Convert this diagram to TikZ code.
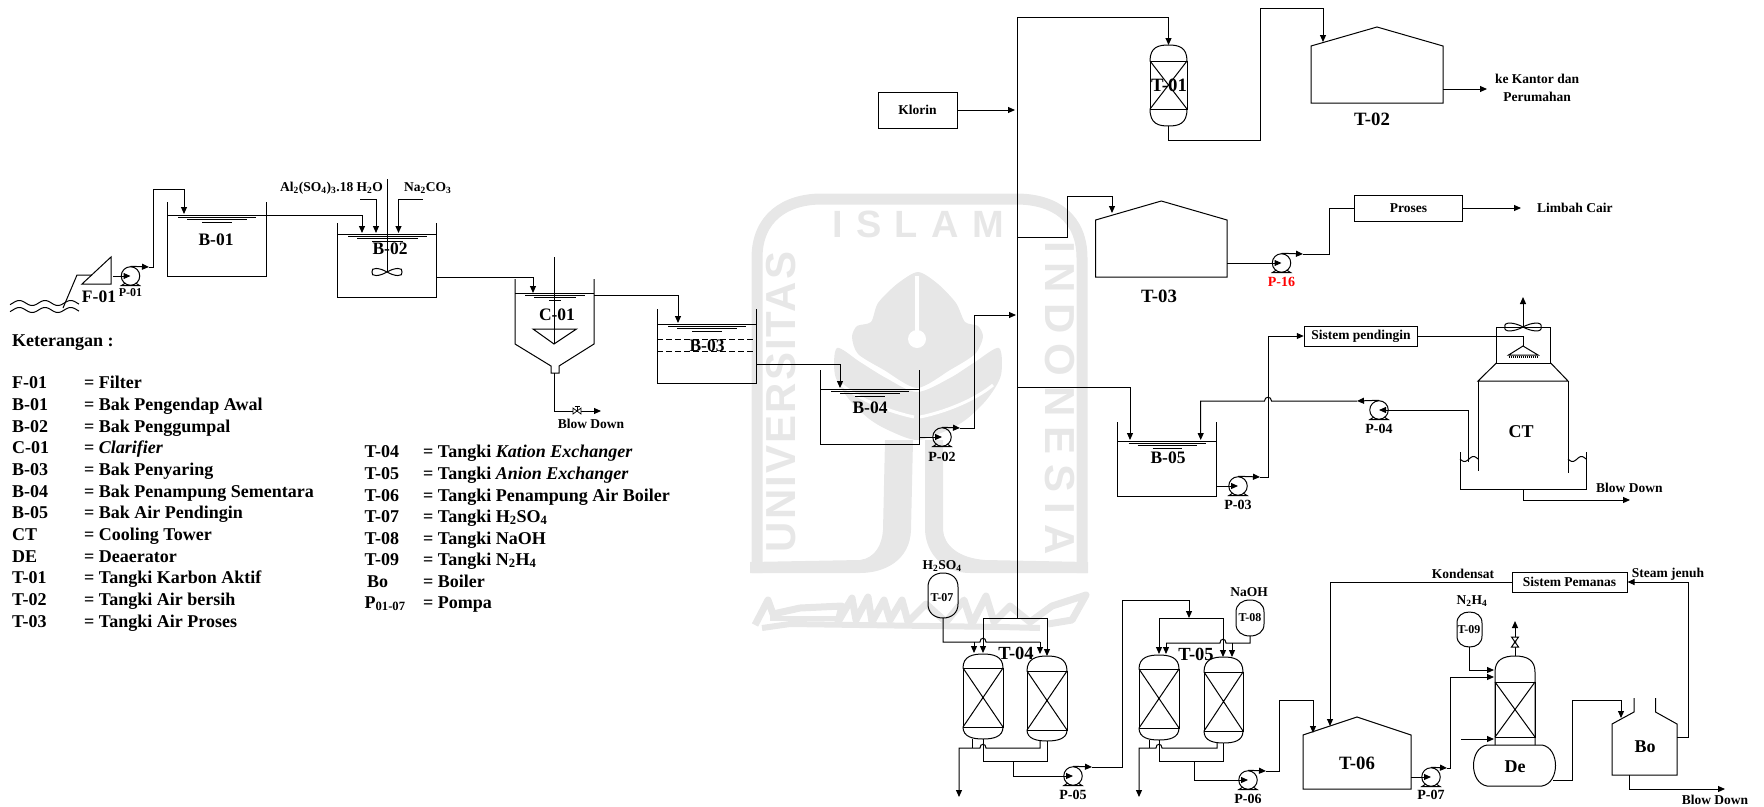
\documentclass[tikz,border=0pt]{standalone}
\usepackage{fontspec}
\setmainfont{Liberation Serif}
\setsansfont{Liberation Sans}
\usetikzlibrary{arrows.meta,calc}
\definecolor{wm}{gray}{0.905}
\tikzset{
 pipe/.style={draw=black,line width=1pt},
 arr/.style={pipe,-{Triangle[length=7pt,width=6pt]}},
 lab/.style={font=\bfseries\fontsize{17.5}{20}\selectfont,inner sep=0pt,text=black},
 tlab/.style={font=\bfseries\fontsize{18.8}{20}\selectfont,inner sep=0pt,text=black},
 plab/.style={font=\bfseries\fontsize{14}{16}\selectfont,inner sep=0pt,text=black},
 mid/.style={font=\bfseries\fontsize{13.5}{16}\selectfont,inner sep=0pt,text=black},
 small/.style={font=\bfseries\fontsize{12}{14}\selectfont,inner sep=0pt,text=black},
 legend/.style={font=\bfseries\fontsize{18}{21}\selectfont,inner sep=0pt,anchor=base west,text=black},
 boxed/.style={pipe,rectangle,inner sep=0pt,font=\bfseries\fontsize{13.5}{16}\selectfont},
 pumpnode/.style={pipe,circle,inner sep=0pt,minimum size=18.5pt},
 wmtext/.style={text=wm,inner sep=0pt,font=\sffamily}
}
\newcommand\myPump[3]{%
 \node[pumpnode] (#1) at (#2,#3) {};
 \draw[pipe] ({#2-5},{#3+7}) -- ({#2-9},{#3+9.5}) -- ({#2+9},{#3+9.5}) -- ({#2+5},{#3+7});
}
\newcommand\myRipple[3]{%
 \draw[pipe] ({#1+11},{#3+2}) -- ({#2-10},{#3+2});
 \draw[pipe] ({#1+20},{#3+4.5}) -- ({#2-19},{#3+4.5});
 \draw[pipe] ({#1+35},{#3+7}) -- ({#2-34},{#3+7});
}
% x1, wall top, x2, level, bottom
\newcommand\myTank[5]{%
 \draw[pipe] (#1,#2) -- (#1,#5) -- (#3,#5) -- (#3,#2);
 \draw[pipe] (#1,#4) -- (#3,#4);
 \myRipple{#1}{#3}{#4}
}
% x1, x2, top, line1, line2, bottom
\newcommand\myVessel[6]{%
 \pgfmathsetmacro\xc{(#1+#2)/2}
 \draw[pipe] (#1,#4) rectangle (#2,#5);
 \draw[pipe] (#1,#4) -- (#2,#5) (#1,#5) -- (#2,#4);
 \draw[pipe] (#1,#4) .. controls (#1,{#3+2}) and ({\xc-10},#3) .. (\xc,#3) .. controls ({\xc+10},#3) and (#2,{#3+2}) .. (#2,#4);
 \draw[pipe] (#1,#5) .. controls (#1,{#6-2}) and ({\xc-10},#6) .. (\xc,#6) .. controls ({\xc+10},#6) and (#2,{#6-2}) .. (#2,#5);
}
% x1, x2, top, bottom, dome height
\newcommand\myDrum[5]{%
 \pgfmathsetmacro\xc{(#1+#2)/2}
 \pgfmathsetmacro\qw{(#2-#1)*.28}
 \draw[pipe] (#1,{#3+#5}) .. controls (#1,{#3+#5*.35}) and ({\xc-\qw},#3) .. (\xc,#3) .. controls ({\xc+\qw},#3) and (#2,{#3+#5*.35}) .. (#2,{#3+#5}) -- (#2,{#4-#5}) .. controls (#2,{#4-#5*.35}) and ({\xc+\qw},#4) .. (\xc,#4) .. controls ({\xc-\qw},#4) and (#1,{#4-#5*.35}) .. (#1,{#4-#5}) -- cycle;
}
% x1, x2, shoulder, apex y, bottom
\newcommand\myRoof[5]{%
 \pgfmathsetmacro\xc{(#1+#2)/2}
 \draw[pipe] (#1,#5) -- (#1,#3) -- (\xc,#4) -- (#2,#3) -- (#2,#5) -- cycle;
}
% x, y, half width, half height
\newcommand\myBow[4]{%
 \draw[pipe] (#1,#2) .. controls ({#1-#3*.5},{#2-#4}) and ({#1-#3*1.1},{#2-#4*1.1}) .. ({#1-#3},#2) .. controls ({#1-#3*1.1},{#2+#4*1.1}) and ({#1-#3*.5},{#2+#4}) .. (#1,#2) .. controls ({#1+#3*.5},{#2-#4}) and ({#1+#3*1.1},{#2-#4*1.1}) .. ({#1+#3},#2) .. controls ({#1+#3*1.1},{#2+#4*1.1}) and ({#1+#3*.5},{#2+#4}) .. (#1,#2);
}
\begin{document}
\begin{tikzpicture}[x=1pt,y=-1pt]
\path[use as bounding box] (0,0) rectangle (1764,806);
% ---------- watermark
\begin{scope}
\draw[wm,line width=11pt] (757,573) -- (757,258) .. controls (757,218) and (785,199) .. (822,199) -- (1016,199) .. controls (1055,199) and (1082,218) .. (1082,258) -- (1082,573);
% stems and bottom band
\fill[wm] (885,440) -- (883,530) .. controls (882,545) and (875,558) .. (860,560) -- (750,562) -- (750,573) -- (860,573) .. controls (885,573) and (910,560) .. (911,530) -- (913,440) -- cycle;
\fill[wm] (925,440) -- (925,530) .. controls (926,555) and (945,573) .. (970,573) -- (1088,573) -- (1088,562) -- (985,560) .. controls (958,558) and (944,545) .. (943,530) -- (943,440) -- cycle;
% lower leaves
\fill[wm] plot[smooth cycle,tension=.5] coordinates {(837,348) (835,375) (848,398) (868,418) (888,430) (917,440) (948,430) (968,418) (988,398) (1001,375) (999,348) (975,362) (950,378) (917,392) (886,378) (860,362)};
% upper leaf
\fill[wm] plot[smooth cycle,tension=.45] coordinates {(918,272) (897,284) (878,303) (871,322) (857,326) (852,337) (858,354) (884,370) (917,388) (950,370) (975,354) (983,337) (978,326) (965,322) (956,303) (938,284)};
\draw[white,line width=4pt] (917,276) -- (917,335);
\fill[white] (917,339) circle[radius=9pt];
\draw[white,line width=3pt] (920,417) .. controls (945,412) and (975,400) .. (993,385);
\draw[white,line width=3pt] (914,417) .. controls (890,412) and (860,400) .. (842,385);
\node[wmtext,font=\sffamily\bfseries\fontsize{38}{40}\selectfont\addfontfeature{LetterSpace=35}] (wmIslam) at (918,224) {ISLAM};
\node[wmtext,rotate=90,font=\sffamily\bfseries\fontsize{42}{44}\selectfont\addfontfeature{LetterSpace=5}] (wmUniv) at (781,402) {UNIVERSITAS};
\node[wmtext,rotate=-90,font=\sffamily\bfseries\fontsize{42}{44}\selectfont\addfontfeature{LetterSpace=24}] (wmIndo) at (1060,398) {INDONESIA};
% calligraphy band
\draw[wm,line width=7pt,line join=round] (755,625) -- (768,600) -- (773,614) -- (800,608) -- (842,606) -- (838,622) -- (852,598) -- (856,620) -- (868,597) -- (872,622) -- (884,600) -- (890,620) -- (902,600) -- (908,622) -- (926,604) -- (946,622) -- (964,600) -- (972,624) -- (986,596) -- (994,622) -- (1010,606) -- (1030,622) -- (1052,606) -- (1086,595) -- (1072,620) -- (1048,624);
\draw[wm,line width=6pt] (762,628) -- (790,624) -- (1000,627) -- (1040,628);
\draw[wm,line width=5pt] (770,618) -- (840,618);
\end{scope}
% ---------- left train
\foreach \wy/\wn in {303/a,310/b}{\draw[pipe] plot[domain=10:79,samples=70] (\x,{\wy+2.5*sin(\x*14)});}
\coordinate (wIn) at (63,308);
\coordinate (fIn) at (92,275);
\draw[pipe] (wIn) -- (77,275) -- (fIn);
\draw[pipe] (82,284) -- (111,257) -- (111,284) -- cycle;
\node[lab] (lF01) at (99,297) {F-01};
\coordinate (fOut) at (113,276);
\myPump{p01}{130.5}{276}
\node[small] (lP01) at (130.5,293) {P-01};
\draw[arr] (fOut) -- (p01.center);
\coordinate (p01a) at (149,267);
\coordinate (b01in) at (184,214);
\draw[arr] (p01.north) -- (p01a);
\draw[arr] (p01a) -- (153,267) -- (153,189) -- (184,189) -- (b01in);
\myTank{167}{202}{266}{215}{276}
\node[lab] (lB01) at (216,240) {B-01};
\coordinate (b01out) at (266,215);
\coordinate (b02in) at (362,233);
\draw[arr] (b01out) -| (b02in);
\myTank{337}{223}{436.5}{234}{297}
\draw[pipe] (387,179) -- (387,272);
\myBow{387}{272}{15}{4.5}
\node[lab] (lB02) at (390,249) {B-02};
\node[mid,anchor=west] (lAl) at (280,188) {Al\textsubscript{2}(SO\textsubscript{4})\textsubscript{3}.18 H\textsubscript{2}O};
\node[mid,anchor=west] (lNa) at (404,188) {Na\textsubscript{2}CO\textsubscript{3}};
\coordinate (alF) at (360,199);
\coordinate (alT) at (376,233);
\coordinate (naF) at (423,199);
\coordinate (naT) at (398.5,233);
\draw[arr] (alF) -| (alT);
\draw[arr] (naF) -| (naT);
\coordinate (b02out) at (436.5,277);
\coordinate (c01in) at (533,293);
\draw[arr] (b02out) -| (c01in);
% clarifier
\draw[pipe] (515,279) -- (515,344) -- (551,366) -- (551,373) -- (559,373) -- (559,366) -- (594,344) -- (594,279);
\draw[pipe] (515,293) -- (594,293);
\myRipple{514}{595}{293}
\draw[pipe] (554,257) -- (554,344);
\draw[pipe] (533,329) -- (576.5,329) -- (554,344) -- cycle;
\node[lab] (lC01) at (557,315) {C-01};
\coordinate (c01bot) at (554,373);
\coordinate (blow1) at (601,411);
\draw[arr] (c01bot) |- (blow1);
\draw[pipe,fill=white,line width=.7pt] (573,408) -- (573,414) -- (581,408) -- (581,414) -- cycle;
\draw[pipe,line width=.7pt] (577,411) -- (577,406) (574.5,406) -- (579.5,406);
\node[mid] (lBlow1) at (591,424) {Blow Down};
\coordinate (c01out) at (594,295);
\coordinate (b03in) at (678,323);
\draw[arr] (c01out) -| (b03in);
\myTank{657}{309}{756}{324}{383}
\draw[pipe,dash pattern=on 6pt off 3pt] (657,339) -- (756,339) (657,351) -- (756,351);
\node[lab] (lB03) at (707,346) {B-03};
\coordinate (b03out) at (756,364);
\coordinate (b04in) at (840,388);
\draw[arr] (b03out) -| (b04in);
\myTank{820}{370}{919}{389}{444}
\node[lab] (lB04) at (870,408) {B-04};
\myPump{p02}{942}{437}
\node[plab] (lP02) at (942,457) {P-02};
\coordinate (b04out) at (919,437);
\draw[arr] (b04out) -- (p02.center);
\coordinate (p02a) at (960,428);
\draw[arr] (p02.north) -- (p02a);
\coordinate (hdr2) at (1016,315);
\draw[arr] (p02a) -- (974,428) -- (974,315) -- (hdr2);
% ---------- legend
\node[legend] (lKet) at (12,346) {Keterangan :};
\foreach \yy/\kk/\vv [count=\i] in {
 388/F-01/= Filter,
 410/B-01/= Bak Pengendap Awal,
 432/B-02/= Bak Penggumpal,
 453.5/C-01/{= \textit{Clarifier}},
 475/B-03/= Bak Penyaring,
 497/B-04/= Bak Penampung Sementara,
 518.5/B-05/= Bak Air Pendingin,
 540/CT/= Cooling Tower,
 562/DE/= Deaerator,
 583/T-01/= Tangki Karbon Aktif,
 605/T-02/= Tangki Air bersih,
 627/T-03/= Tangki Air Proses}{
 \node[legend] (ka\i) at (12,\yy) {\kk};
 \node[legend] (va\i) at (84,\yy) {\vv};
}
\foreach \yy/\xx/\kk/\vv [count=\i] in {
 457/364.5/T-04/{= Tangki \textit{Kation Exchanger}},
 479/364.5/T-05/{= Tangki \textit{Anion Exchanger}},
 501/364.5/T-06/= Tangki Penampung Air Boiler,
 522/364.5/T-07/{= Tangki H\textsubscript{2}SO\textsubscript{4}},
 544/364.5/T-08/= Tangki NaOH,
 565/364.5/T-09/{= Tangki N\textsubscript{2}H\textsubscript{4}},
 587/367/Bo/= Boiler,
 608/364.5/{P\textsubscript{01-07}}/= Pompa}{
 \node[legend] (kb\i) at (\xx,\yy) {\kk};
 \node[legend] (vb\i) at (423,\yy) {\vv};
}
% ---------- header and T-01 / T-02
\coordinate (hTop) at (1017,17);
\coordinate (hBot) at (1017,618);
\coordinate (t01in) at (1168.5,45);
\draw[pipe] (hBot) -- (hTop);
\draw[arr] (hTop) -| (t01in);
\myVessel{1150}{1187}{45}{61}{109}{126}
\node[tlab] (lT01) at (1169,85) {T-01};
\coordinate (t01out) at (1168.5,126);
\coordinate (t02in) at (1323,42);
\draw[arr] (t01out) -- (1168.5,140) -- (1260,140) -- (1260,8) -- (1323,8) -- (t02in);
\myRoof{1311}{1443}{46}{27}{103}
\node[tlab] (lT02) at (1372,119) {T-02};
\coordinate (t02out) at (1443,89);
\coordinate (t02to) at (1487,89);
\draw[arr] (t02out) -- (t02to);
\node[mid,align=center] (lKantor) at (1537,88) {ke Kantor dan\\[1.5pt]Perumahan};
\node[boxed,minimum width=79pt,minimum height=36pt] (klorin) at (917.5,110) {Klorin};
\coordinate (hKl) at (1015,110);
\draw[arr] (klorin) -- (hKl);
% ---------- T-03
\coordinate (h3) at (1017,237);
\coordinate (t03in) at (1112,213);
\draw[arr] (h3) -- (1067.5,237) -- (1067.5,196) -- (1112,196) -- (t03in);
\myRoof{1095.6}{1227}{220}{201}{277}
\node[tlab] (lT03) at (1159,296) {T-03};
\myPump{p16}{1281.5}{263}
\node[plab,text=red] (lP16) at (1281.5,282) {P-16};
\coordinate (t03out) at (1227,263);
\draw[arr] (t03out) -- (p16.center);
\coordinate (p16a) at (1303,254);
\draw[arr] (p16.north) -- (p16a);
\node[boxed,minimum width=108pt,minimum height=26pt] (proses) at (1408.5,208) {Proses};
\draw[pipe] (p16a) -- (1329,254) |- (proses.west);
\coordinate (limb) at (1521,208);
\draw[arr] (proses) -- (limb);
\node[mid,anchor=west] (lLimbah) at (1537,208) {Limbah Cair};
% ---------- B-05 and CT
\coordinate (h5) at (1017,387);
\coordinate (b05in) at (1130,440);
\draw[arr] (h5) -| (b05in);
\myTank{1117.5}{422}{1216}{441}{496}
\node[lab] (lB05) at (1168,458) {B-05};
\myPump{p03}{1238}{486}
\node[plab] (lP03) at (1238,505) {P-03};
\coordinate (b05out) at (1216,486);
\draw[arr] (b05out) -- (p03.center);
\coordinate (p03a) at (1260,477);
\draw[arr] (p03.north) -- (p03a);
\node[boxed,minimum width=113.5pt,minimum height=20pt] (sp) at (1361,336) {Sistem pendingin};
\draw[arr] (p03a) -- (1268,477) |- (sp.west);
\coordinate (spray) at (1523,346);
\draw[pipe] (sp.east) -| (spray);
\draw[pipe] (spray) -- (1508.6,355) -- (1538,355) -- cycle;
\draw[pipe,dash pattern=on 1pt off 1pt,line width=2pt] (1508.6,356.5) -- (1538,356.5);
\draw[pipe] (1496.4,327) rectangle (1550.7,363);
\draw[pipe] (1496.4,363) -- (1478,381) -- (1568,381) -- (1550.7,363);
\draw[pipe] (1478,381) -- (1478,471) (1568,381) -- (1568,473);
\draw[pipe] (1460,452) -- (1460,489) -- (1586,489) -- (1586,452);
\draw[pipe] plot[domain=1460:1478,samples=20] (\x,{459+2.5*sin((\x-1460)*20)});
\draw[pipe] plot[domain=1568:1586,samples=20] (\x,{459+2.5*sin((\x-1568)*20)});
\myBow{1523}{327}{18}{5}
\coordinate (fanHub) at (1523,327);
\coordinate (fanTop) at (1523,297);
\draw[arr] (fanHub) -- (fanTop);
\node[lab,font=\bfseries\fontsize{18}{20}\selectfont] (lCT) at (1521,432) {CT};
\myPump{p04}{1379}{410}
\node[plab] (lP04) at (1379,429) {P-04};
\coordinate (ctOut) at (1468.5,462);
\draw[arr] (ctOut) |- (p04.center);
\coordinate (p04a) at (1357,401);
\draw[arr] (p04.north) -- (p04a);
\coordinate (b05in2) at (1200.7,440);
\draw[arr] (p04a) -- (1271.5,401) .. controls (1271.5,396) and (1264.5,396) .. (1264.5,401) -- (1200.7,401) -- (b05in2);
\coordinate (ctBl) at (1523,489);
\coordinate (ctBlTo) at (1630,500);
\draw[arr] (ctBl) |- (ctBlTo);
\node[mid,anchor=west] (lBlow2) at (1596,488) {Blow Down};
% ---------- T-04
\node[mid] (lH2) at (942,566) {H\textsubscript{2}SO\textsubscript{4}};
\myDrum{928}{958}{573}{618}{14}
\node[small] (lT07) at (942,598) {T-07};
\coordinate (t07out) at (943,618);
\coordinate (t4a) at (974,653);
\coordinate (t4b) at (1040,654);
\draw[pipe] (t07out) -- (943,642) -- (980,642) .. controls (980,637) and (986,637) .. (986,642) -- (1040,642);
\draw[arr] (974,642) -- (t4a);
\draw[arr] (1040,642) -- (t4b);
\coordinate (t4c) at (983,653);
\coordinate (t4d) at (1047,656);
\draw[arr] (hBot) -- (983,618) -- (t4c);
\draw[arr] (hBot) -- (1047,618) -- (t4d);
\myVessel{963}{1003}{654}{668}{727}{739}
\myVessel{1027}{1067}{656}{671}{730}{741}
\node[lab,font=\bfseries\fontsize{18.5}{20}\selectfont] (lT04) at (1016,653) {T-04};
\coordinate (v1o1) at (972,739);
\coordinate (v1o2) at (983,739);
\coordinate (v2o1) at (1040,741);
\coordinate (v2o2) at (1047,741);
\coordinate (v1dr) at (959,797);
\draw[pipe] (v1o1) -- (972,748);
\draw[arr] (v2o1) -- (1040,748) -- (986,748) .. controls (986,743) and (980,743) .. (980,748) -- (959,748) -- (v1dr);
\draw[pipe] (v1o2) -- (983,761) -- (1047,761) -- (v2o2);
\myPump{p05}{1073}{776}
\node[plab] (lP05) at (1073,795) {P-05};
\draw[arr] (1013,761) -- (1013,776) -- (p05.center);
\coordinate (p05a) at (1092,767);
\draw[arr] (p05.north) -- (p05a);
\coordinate (t5top) at (1189,618);
\draw[arr] (p05a) -- (1122,767) -- (1122,600) -- (1189,600) -- (t5top);
% ---------- T-05
\coordinate (t5a) at (1159,654);
\coordinate (t5b) at (1223,657);
\draw[arr] (1189,618) -- (1159,618) -- (t5a);
\draw[arr] (1189,618) -- (1223,618) -- (t5b);
\node[mid] (lNaOH) at (1249,592) {NaOH};
\myDrum{1236}{1264}{600}{636}{12}
\node[small] (lT08) at (1250,618) {T-08};
\coordinate (t08out) at (1250,636);
\draw[pipe] (t08out) -- (1250,643) -- (1226,643) .. controls (1226,638) and (1220,638) .. (1220,643) -- (1166,643);
\coordinate (t5c) at (1166,654);
\coordinate (t5d) at (1232,657);
\draw[arr] (1166,643) -- (t5c);
\draw[arr] (1232,643) -- (t5d);
\myVessel{1139}{1179}{655}{669}{728}{740}
\myVessel{1204}{1243}{657}{672}{731}{743}
\node[lab,font=\bfseries\fontsize{18.5}{20}\selectfont] (lT05) at (1196,654) {T-05};
\coordinate (v3o1) at (1149,740);
\coordinate (v3o2) at (1159,740);
\coordinate (v4o1) at (1217,743);
\coordinate (v4o2) at (1223,743);
\coordinate (v3dr) at (1139,797);
\draw[pipe] (v3o1) -- (1149,748);
\draw[arr] (v4o1) -- (1217,748) -- (1162,748) .. controls (1162,743) and (1156,743) .. (1156,748) -- (1139,748) -- (v3dr);
\draw[pipe] (v3o2) -- (1159,761) -- (1223,761) -- (v4o2);
\myPump{p06}{1248}{780}
\node[plab] (lP06) at (1248,799) {P-06};
\draw[arr] (1194,761) -- (1194,780) -- (p06.center);
\coordinate (p06a) at (1266,771);
\draw[arr] (p06.north) -- (p06a);
\coordinate (t06in) at (1313,733);
\draw[arr] (p06a) -- (1279,771) -- (1279,700) -- (1313,700) -- (t06in);
% ---------- T-06, deaerator, boiler
\myRoof{1303}{1411}{735}{717}{789}
\node[tlab] (lT06) at (1357,763) {T-06};
\node[boxed,minimum width=115pt,minimum height=20pt] (sh) at (1569.5,582) {Sistem Pemanas};
\coordinate (t06in2) at (1330,726);
\draw[arr] (sh.west) -| (t06in2);
\node[mid] (lKond) at (1463,574) {Kondensat};
\node[mid] (lSteam) at (1668,574) {Steam jenuh};
\coordinate (boS) at (1677,737);
\draw[arr] (boS) -- (1688,737) |- (sh.east);
\node[mid] (lN2) at (1472,601) {N\textsubscript{2}H\textsubscript{4}};
\myDrum{1457}{1482}{612}{647}{11}
\node[small] (lT09) at (1469,630) {T-09};
\coordinate (t09out) at (1469,647);
\coordinate (deA) at (1494,670);
\draw[arr] (t09out) |- (deA);
\myPump{p07}{1431}{777}
\node[plab] (lP07) at (1431,795) {P-07};
\coordinate (t06out) at (1411,777);
\draw[arr] (t06out) -- (p07.center);
\coordinate (p07a) at (1447,768);
\draw[arr] (p07.north) -- (p07a);
\coordinate (deB) at (1494,677);
\draw[arr] (p07a) -- (1450,768) |- (deB);
\draw[pipe] (1495,745) -- (1495,672) .. controls (1495,660) and (1503,656) .. (1515,656) .. controls (1527,656) and (1535,660) .. (1535,672) -- (1535,745);
\draw[pipe] (1495,682) rectangle (1535,737);
\draw[pipe] (1495,682) -- (1535,737) (1495,737) -- (1535,682);
\coordinate (deV) at (1515,656);
\coordinate (deVt) at (1515,621);
\draw[arr] (deV) -- (deVt);
\draw[pipe,fill=white] (1511.5,637) -- (1518.5,637) -- (1511.5,647) -- (1518.5,647) -- cycle;
\fill (1515,642) circle[radius=1.5pt];
\coordinate (deC) at (1461,739);
\coordinate (deD) at (1494,739);
\draw[arr] (deC) -- (deD);
\draw[pipe] (1487,745) -- (1542,745) .. controls (1560,748) and (1560,783) .. (1542,786) -- (1487,786) .. controls (1469,783) and (1469,748) .. (1487,745) -- cycle;
\node[lab,font=\bfseries\fontsize{18}{20}\selectfont] (lDe) at (1515,767) {De};
\coordinate (deO) at (1553,780);
\coordinate (boIn) at (1621,718);
\draw[arr] (deO) -- (1572,780) -- (1572,700) -- (1621,700) -- (boIn);
\draw[pipe] (1634,698) -- (1634,712) -- (1612,724) -- (1612,775) -- (1677,775) -- (1677,724) -- (1655.5,712) -- (1655.5,698);
\node[lab,font=\bfseries\fontsize{18}{20}\selectfont] (lBo) at (1645,747) {Bo};
\coordinate (boB) at (1629,775);
\coordinate (boBt) at (1725,789);
\draw[arr] (boB) |- (boBt);
\node[mid] (lBlow3) at (1715,800) {Blow Down};
\end{tikzpicture}
\end{document}
